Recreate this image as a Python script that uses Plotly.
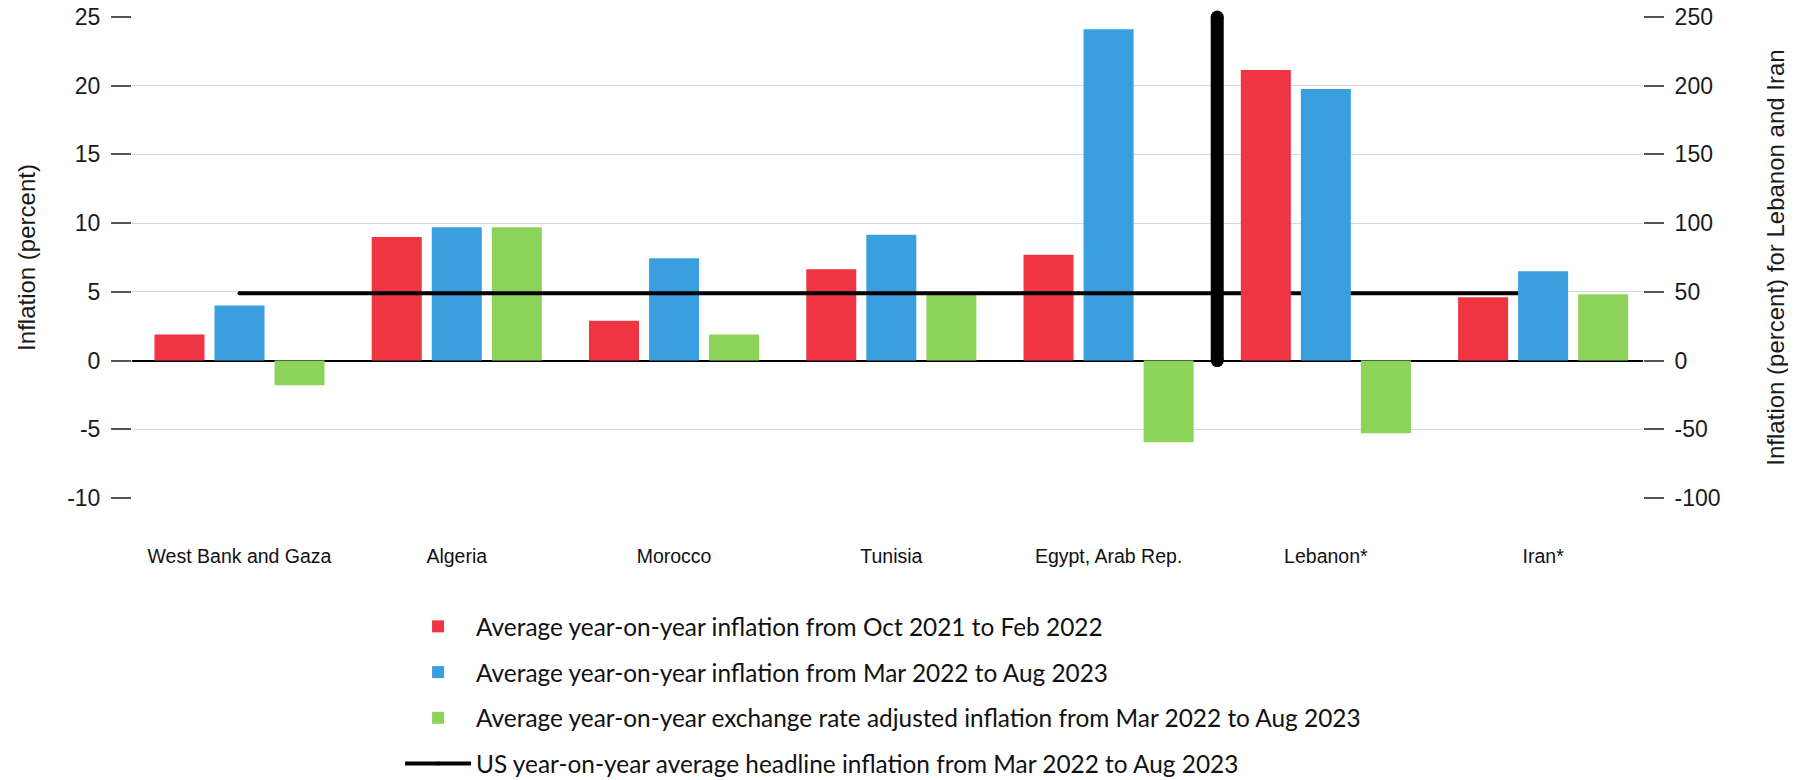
import plotly.graph_objects as go

categories = ["West Bank and Gaza", "Algeria", "Morocco", "Tunisia",
              "Egypt, Arab Rep.", "Lebanon*", "Iran*"]
left_cats = categories[:5]
right_cats = categories[5:]

# Left axis (percent)
pre_left = [1.9, 9.0, 2.9, 6.65, 7.7]
post_left = [4.0, 9.7, 7.45, 9.15, 24.1]
fx_left = [-1.8, 9.7, 1.9, 4.9, -5.95]
# Right axis (percent) for Lebanon and Iran
pre_right = [211.4, 46.1]
post_right = [197.6, 65.0]
fx_right = [-52.9, 48.3]

us_inflation = 4.9

left_ticks = [-10, -5, 0, 5, 10, 15, 20, 25]
left_ticktext = ["-10", "-5", "0", "5", "10", "15", "20", "25"]
right_ticks = [-100, -50, 0, 50, 100, 150, 200, 250]
right_ticktext = ["-100", "-50", "0", "50", "100", "150", "200", "250"]

names = [
    "Average year-on-year inflation from Oct 2021 to Feb 2022",
    "Average year-on-year inflation from Mar 2022 to Aug 2023",
    "Average year-on-year exchange rate adjusted inflation from Mar 2022 to Aug 2023",
    "US year-on-year average headline inflation from Mar 2022 to Aug 2023",
]
colors = ["#EF3442", "#3A9FDF", "#8CD35A"]

x_left = list(range(len(left_cats)))
x_right = [len(left_cats) + i for i in range(len(right_cats))]
x_all = list(range(len(categories)))

fig = go.Figure()
series_left = [pre_left, post_left, fx_left]
series_right = [pre_right, post_right, fx_right]
for k in range(3):
    fig.add_trace(go.Bar(
        x=x_left, y=series_left[k], name=names[k], marker_color=colors[k],
        marker_line_width=0, offsetgroup=str(k), alignmentgroup="g",
        legendgroup=str(k), yaxis="y"))
for k in range(3):
    fig.add_trace(go.Bar(
        x=x_right, y=series_right[k], name=names[k], marker_color=colors[k],
        marker_line_width=0, offsetgroup=str(k), alignmentgroup="g",
        legendgroup=str(k), showlegend=False, yaxis="y2"))

# US headline inflation line
fig.add_trace(go.Scatter(
    x=[x_all[0], x_all[-1]], y=[us_inflation, us_inflation], mode="lines+markers",
    line=dict(color="black", width=4), marker=dict(color="black", size=4),
    name=names[3], legendgroup="3", yaxis="y", cliponaxis=False))

# separator between left-axis and right-axis countries
sep_x = (x_left[-1] + x_right[0]) / 2
fig.add_trace(go.Scatter(
    x=[sep_x, sep_x], y=[0, 25], mode="lines+markers",
    line=dict(color="black", width=13), marker=dict(color="black", size=13),
    showlegend=False, hoverinfo="skip", yaxis="y", cliponaxis=False))

tick_font = dict(family="Liberation Sans, Arial, sans-serif", size=23, color="#1a1a1a")
title_font = dict(family="Liberation Sans, Arial, sans-serif", size=24, color="#1a1a1a")

fig.update_layout(
    width=1796, height=780,
    margin=dict(l=124, r=161, t=9, b=290, autoexpand=False),
    paper_bgcolor="white", plot_bgcolor="white",
    barmode="group", bargap=0.171, bargroupgap=0.167,
    xaxis=dict(
        range=[-0.4948, 6.4597], tickmode="array", tickvals=x_all,
        ticktext=categories, showgrid=False, zeroline=False, showline=False,
        ticks="", ticklabelstandoff=44, ticklabeloverflow="allow",
        tickfont=dict(family="Liberation Sans, Arial, sans-serif",
                      size=19.5, color="#111")),
    yaxis=dict(
        range=[-10, 25], tickmode="array", tickvals=left_ticks,
        ticktext=left_ticktext, showgrid=True, gridcolor="#d9d9d9",
        gridwidth=1, zeroline=True, zerolinecolor="black", zerolinewidth=1.5,
        ticks="outside", ticklen=20, tickcolor="#555", tickwidth=1.5,
        ticklabelstandoff=6, ticklabeloverflow="allow", tickfont=tick_font,
        showline=False,
        title=dict(text="Inflation (percent)", font=title_font, standoff=24)),
    yaxis2=dict(
        range=[-100, 250], tickmode="array", tickvals=right_ticks,
        ticktext=right_ticktext, overlaying="y", side="right",
        showgrid=False, zeroline=False, ticks="outside", ticklen=20,
        tickcolor="#555", tickwidth=1.5, ticklabelstandoff=6,
        ticklabeloverflow="allow", tickfont=tick_font, showline=False,
        title=dict(text="Inflation (percent) for Lebanon and Iran",
                   font=title_font, standoff=47)),
    legend=dict(
        x=0.1774, xanchor="left", y=-0.2204, yanchor="top", orientation="v",
        font=dict(family="Lato, sans-serif", size=24.4, color="#111"),
        itemwidth=66, tracegroupgap=11, bgcolor="rgba(0,0,0,0)"),
    showlegend=True,
)

fig.write_html("out.html")
